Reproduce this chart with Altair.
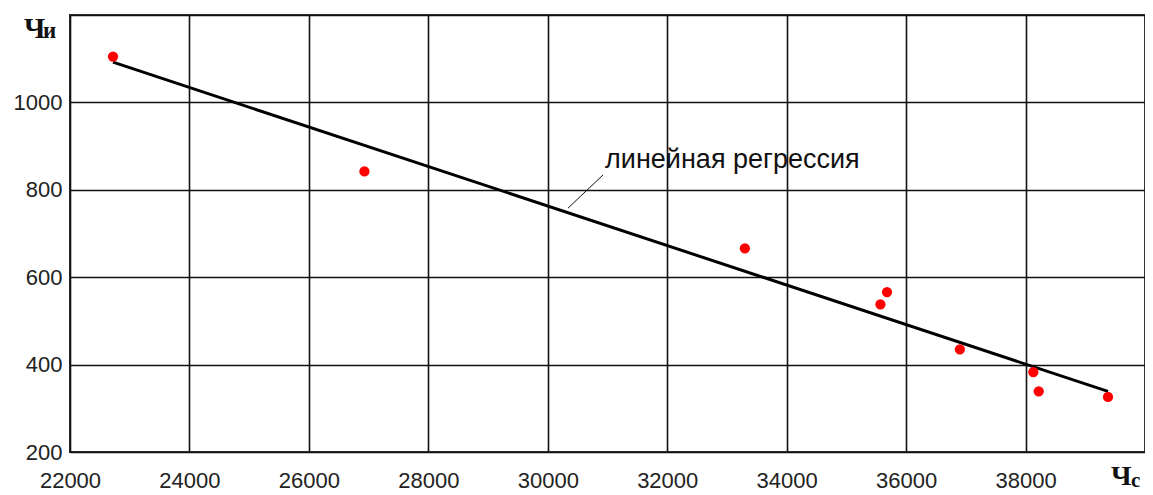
import altair as alt
import pandas as pd

q_c = [22720, 26930, 33300, 35570, 35680, 36900, 38130, 38220, 39380]
q_i = [1105, 842, 666, 538, 566, 435, 383, 339, 326]

x_ticks = [22000, 24000, 26000, 28000, 30000, 32000, 34000, 36000, 38000]
y_ticks = [200, 400, 600, 800, 1000]

df = pd.DataFrame({"qc": q_c, "qi": q_i})

FONT = "Liberation Sans"
SERIF = "Liberation Serif"

xs = alt.Scale(domain=[22000, 40000], nice=False, zero=False)
ys = alt.Scale(domain=[200, 1200], nice=False, zero=False)

xax = alt.Axis(values=x_ticks, title=None, grid=True, gridColor="#111", gridWidth=1.6,
               domain=False, ticks=False, labelFont=FONT, labelFontSize=22,
               labelColor="#222", labelPadding=18, format="d", labelFlush=False)
yax = alt.Axis(values=y_ticks + [1200], title=None, grid=True, gridColor="#111", gridWidth=1.6,
               domain=False, ticks=False, labelFont=FONT, labelFontSize=22,
               labelColor="#222", labelPadding=8, format="d",
               labelExpr="datum.value == 1200 ? '' : datum.label", labelFlush=False)

base = alt.Chart(df)

grid = base.mark_point(opacity=0).encode(
    x=alt.X("qc:Q", scale=xs, axis=xax),
    y=alt.Y("qi:Q", scale=ys, axis=yax),
)

reg = base.transform_regression("qc", "qi").mark_line(color="black", strokeWidth=3).encode(
    x=alt.X("qc:Q", scale=xs), y=alt.Y("qi:Q", scale=ys)
)

pts = base.mark_circle(color="#ff0000", size=105, opacity=1).encode(
    x=alt.X("qc:Q", scale=xs), y=alt.Y("qi:Q", scale=ys)
)

leader = alt.Chart(pd.DataFrame({"a": [0]})).mark_rule(color="#111", strokeWidth=1).encode(
    x=alt.datum(30925, scale=xs), y=alt.datum(834, scale=ys),
    x2=alt.datum(30339), y2=alt.datum(758)
)

ann = alt.Chart(pd.DataFrame({"a": [0]})).mark_text(
    text="линейная регрессия", font=FONT, fontSize=27, align="left",
    baseline="middle", color="#111"
).encode(x=alt.datum(30960, scale=xs), y=alt.datum(868, scale=ys))

def lab(t, x, y, size):
    return alt.Chart(pd.DataFrame({"a": [0]})).mark_text(
        text=t, font=SERIF, fontSize=size, fontWeight="bold", align="left",
        baseline="alphabetic", color="#111"
    ).encode(x=alt.value(x), y=alt.value(y))

labels = (lab("Ч", -46, 23, 29) + lab("и", -27, 23, 23)
          + lab("Ч", 1041, 470, 28) + lab("с", 1061, 472, 21))

chart = alt.layer(grid, reg, pts, leader, ann, labels).properties(
    width=1075, height=437,
    autosize=alt.AutoSizeParams(type="none"),
    padding={"left": 62, "top": 7, "right": 0, "bottom": 40},
    background="white",
).configure_view(stroke="#333", strokeWidth=2)

chart.save("out.html", embed_options={"renderer": "svg", "actions": False})
